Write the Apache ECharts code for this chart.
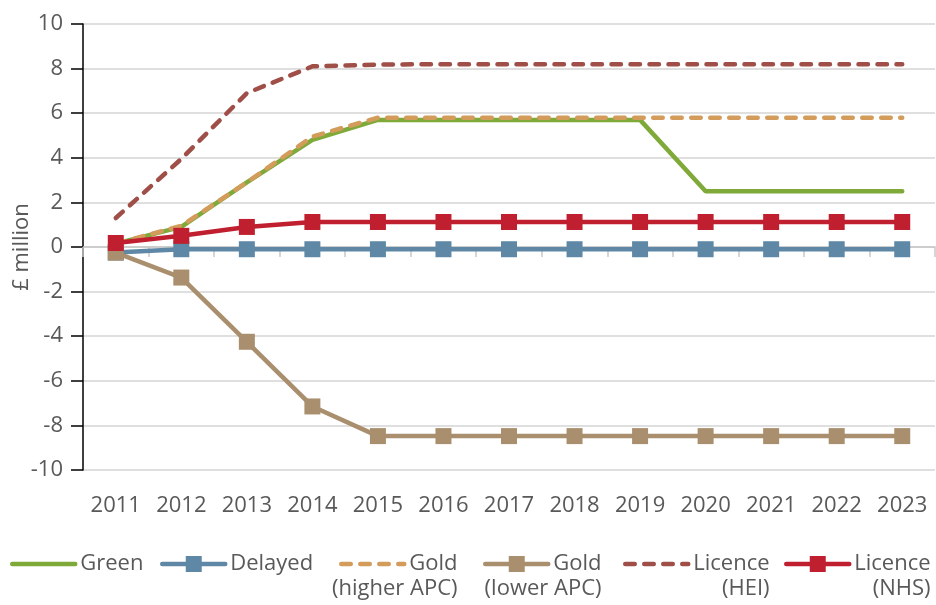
<!DOCTYPE html>
<html>
<head>
<meta charset="utf-8">
<script src="https://cdn.jsdelivr.net/npm/echarts@6/dist/echarts.min.js"></script>
<style>
  html, body { margin: 0; padding: 0; background: #fff; }
  #chart { width: 936px; height: 605px; }
</style>
</head>
<body>
<div id="chart"></div>
<script>
// years on the x axis
var years = ['2011', '2012', '2013', '2014', '2015', '2016', '2017', '2018', '2019', '2020', '2021', '2022', '2023'];

// £ million
var green       = [0.15, 0.9, 2.9, 4.8, 5.7, 5.7, 5.7, 5.7, 5.7, 2.5, 2.5, 2.5, 2.5];
var delayed     = [-0.25, -0.1, -0.1, -0.1, -0.1, -0.1, -0.1, -0.1, -0.1, -0.1, -0.1, -0.1, -0.1];
var goldHigher  = [0.15, 0.95, 2.9, 4.95, 5.8, 5.8, 5.8, 5.8, 5.8, 5.8, 5.8, 5.8, 5.8];
var goldLower   = [-0.25, -1.37, -4.25, -7.15, -8.48, -8.48, -8.48, -8.48, -8.48, -8.48, -8.48, -8.48, -8.48];
var licenceHEI  = [1.3, 3.95, 6.9, 8.1, 8.18, 8.2, 8.2, 8.2, 8.2, 8.2, 8.2, 8.2, 8.2];
var licenceNHS  = [0.18, 0.5, 0.9, 1.12, 1.12, 1.12, 1.12, 1.12, 1.12, 1.12, 1.12, 1.12, 1.12];

// legend texts (first line / second line)
var names = ['Green', 'Delayed', 'Gold (higher APC)', 'Gold (lower APC)', 'Licence (HEI)', 'Licence (NHS)'];
var line1 = ['Green', 'Delayed', 'Gold', 'Gold', 'Licence', 'Licence'];
var line2 = ['', '', '(higher APC)', '(lower APC)', '(HEI)', '(NHS)'];
var hasMarker = [false, true, false, true, false, true];

var font = 'Open Sans';
var textGrey = '#595959';
var legendLeft = [10, 160, 332, 483, 623, 784];

function mkSeries(name, data, color, marker, dashed) {
  return {
    name: name,
    type: 'line',
    data: data,
    symbol: marker ? 'rect' : 'none',
    symbolSize: 16,
    showSymbol: marker,
    color: color,
    itemStyle: { color: color },
    lineStyle: { color: color, width: 4.5, type: dashed ? [9.5, 9.5] : 'solid', cap: 'round' },
    emphasis: { disabled: true },
    animation: false
  };
}

var tok = { fontFamily: font, fontSize: 22, color: textGrey, lineHeight: 25 };

var legends = names.map(function (n, i) {
  return {
    data: [n],
    left: legendLeft[i],
    top: 528,
    padding: 0,
    itemGap: 0,
    itemWidth: 63,
    itemHeight: 20,
    selectedMode: false,
    lineStyle: { width: 4.5 },
    itemStyle: hasMarker[i] ? {} : { opacity: 0 },
    textStyle: {
      fontFamily: font, fontSize: 22, color: textGrey,
      rich: {
        e: Object.assign({ width: 1 }, tok),
        a: Object.assign({ align: 'right' }, tok),
        b: Object.assign({ width: 1, align: 'right' }, tok)
      }
    },
    formatter: function () {
      return '{e| }\n{a|' + line1[i] + '}\n{b|' + (line2[i] || ' ') + '}';
    }
  };
});

var chart = echarts.init(document.getElementById('chart'));
chart.setOption({
  backgroundColor: '#fff',
  animation: false,
  grid: { left: 83, right: 1, top: 24, bottom: 135, containLabel: false, outerBoundsMode: 'none' },
  legend: legends,
  xAxis: [{
    type: 'category',
    data: years,
    position: 'bottom',
    axisLine: { show: false, onZero: false },
    axisTick: { show: false },
    axisLabel: { fontFamily: font, fontSize: 22, color: textGrey, margin: 25, interval: 0, hideOverlap: false },
    splitLine: { show: false }
  }, {
    type: 'category',
    data: years,
    position: 'bottom',
    axisLine: { show: true, onZero: true, lineStyle: { color: '#c8c8c8', width: 1.5 } },
    axisTick: { show: true, length: 10, interval: 0, lineStyle: { color: '#c8c8c8', width: 1.5 } },
    axisLabel: { show: false },
    splitLine: { show: false }
  }],
  yAxis: {
    type: 'value',
    min: -10,
    max: 10,
    interval: 2,
    name: '£ million',
    nameLocation: 'middle',
    nameGap: 50,
    nameMoveOverlap: false,
    nameTextStyle: { fontFamily: font, fontSize: 22, color: textGrey },
    axisLine: { show: true, lineStyle: { color: '#000', width: 1.5 } },
    axisTick: { show: true, length: 12, lineStyle: { color: '#000', width: 1.5 } },
    axisLabel: { fontFamily: font, fontSize: 22, color: textGrey, margin: 20 },
    splitLine: { lineStyle: { color: '#d4d4d4', width: 1.5 } }
  },
  series: [
    mkSeries(names[0], green, '#7faa3a', false, false),
    mkSeries(names[1], delayed, '#5e88a6', true, false),
    mkSeries(names[2], goldHigher, '#d39c5a', false, true),
    mkSeries(names[3], goldLower, '#a98f6e', true, false),
    mkSeries(names[4], licenceHEI, '#9f4f47', false, true),
    mkSeries(names[5], licenceNHS, '#c01f30', true, false)
  ]
});
</script>
</body>
</html>
